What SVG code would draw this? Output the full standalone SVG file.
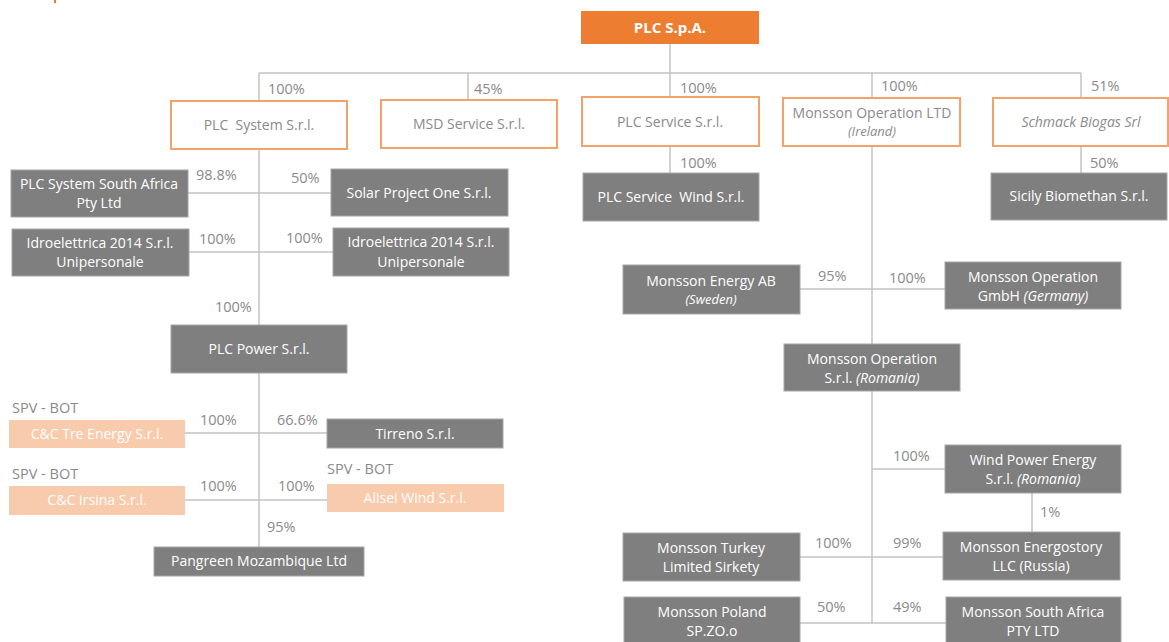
<svg xmlns="http://www.w3.org/2000/svg" width="1169" height="642" viewBox="0 0 1169 642">
<style>
text{font-family:"Open Sans","Liberation Sans",sans-serif;font-size:14px}
.lbl{fill:#8a8a8a;font-size:14.5px}
.wt{fill:#8a8a8a;text-anchor:middle}
.dt{fill:#ffffff;text-anchor:middle}
.white{fill:#ffffff;stroke:#F4A26B;stroke-width:2}
.dark{fill:#7F7F7F;stroke:#A6A6A6;stroke-width:1}
.peach{fill:#F8CBAD}
.ln{stroke:#C4C4C4;stroke-width:1.5;fill:none}
</style>
<rect x="54" y="0" width="2" height="3" fill="#ED7D31"/>
<g id="connectors">
<path class="ln" d="M670 44V97M259 73H1081M259 73V101M468 73V99M872 73V97M1081 73V98"/>
<path class="ln" d="M670 146V173M1081 146V173"/>
<path class="ln" d="M259 150V547M188 193H331M189 252H333M185 433H327M185 500H327"/>
<path class="ln" d="M872 146V623M800 289H945M872 469H945M1032 493V532M800 557H943M800 623H946"/>
</g>
<g id="n-plcspa"><rect x="581" y="11" width="178" height="33" fill="#ED7D31"/><text x="670" y="33" text-anchor="middle" fill="#fff" font-weight="bold" style="font-size:15px">PLC S.p.A.</text></g>
<g id="n-plcsystem"><rect class="white" x="171" y="101" width="176" height="48"/><text class="wt" x="259" y="130">PLC&#160; System S.r.l.</text></g>
<g id="n-msd"><rect class="white" x="381" y="100" width="176" height="48"/><text class="wt" x="469" y="129">MSD Service S.r.l.</text></g>
<g id="n-plcservice"><rect class="white" x="582" y="97" width="177" height="49"/><text class="wt" x="670" y="127">PLC Service S.r.l.</text></g>
<g id="n-monssonltd"><rect class="white" x="783" y="98" width="177" height="48"/><text class="wt" x="872" y="118">Monsson Operation LTD</text><text class="wt" x="872" y="136" font-style="italic" style="font-size:13px">(Ireland)</text></g>
<g id="n-schmack"><rect class="white" x="993" y="98" width="175" height="48"/><text class="wt" x="1081" y="127" font-style="italic">Schmack Biogas Srl</text></g>
<g id="labels-top">
<text class="lbl" x="268" y="94">100%</text>
<text class="lbl" x="474" y="94">45%</text>
<text class="lbl" x="680" y="93">100%</text>
<text class="lbl" x="881" y="91">100%</text>
<text class="lbl" x="1091" y="91">51%</text>
<text class="lbl" x="680" y="168">100%</text>
<text class="lbl" x="1090" y="168">50%</text>
</g>
<g id="n-plcwind"><rect class="dark" x="583" y="173" width="176" height="48"/><text class="dt" x="671" y="202">PLC Service&#160; Wind S.r.l.</text></g>
<g id="n-sicily"><rect class="dark" x="991" y="173" width="176" height="47"/><text class="dt" x="1079" y="201">Sicily Biomethan S.r.l.</text></g>
<g id="n-plcsa"><rect class="dark" x="11" y="170" width="177" height="47"/><text class="dt" x="99" y="189">PLC System South Africa</text><text class="dt" x="99" y="208">Pty Ltd</text></g>
<g id="n-solar"><rect class="dark" x="331" y="169" width="177" height="47"/><text class="dt" x="419" y="198">Solar Project One S.r.l.</text></g>
<g id="n-idro1"><rect class="dark" x="12" y="229" width="177" height="47"/><text class="dt" x="100" y="248">Idroelettrica 2014 S.r.l.</text><text class="dt" x="100" y="267">Unipersonale</text></g>
<g id="n-idro2"><rect class="dark" x="333" y="228" width="176" height="48"/><text class="dt" x="421" y="247">Idroelettrica 2014 S.r.l.</text><text class="dt" x="421" y="267">Unipersonale</text></g>
<g id="labels-left">
<text class="lbl" x="196" y="180">98.8%</text>
<text class="lbl" x="291" y="183">50%</text>
<text class="lbl" x="199" y="244">100%</text>
<text class="lbl" x="286" y="243">100%</text>
<text class="lbl" x="215" y="312">100%</text>
<text class="lbl" x="200" y="425">100%</text>
<text class="lbl" x="277" y="425">66.6%</text>
<text class="lbl" x="200" y="491">100%</text>
<text class="lbl" x="278" y="491">100%</text>
<text class="lbl" x="267" y="532">95%</text>
<text class="lbl" x="12" y="413">SPV - BOT</text>
<text class="lbl" x="12" y="479">SPV - BOT</text>
<text class="lbl" x="327" y="474">SPV - BOT</text>
</g>
<g id="n-plcpower"><rect class="dark" x="171" y="325" width="176" height="48"/><text class="dt" x="259" y="354">PLC Power S.r.l.</text></g>
<g id="n-cctre"><rect class="peach" x="9" y="420" width="176" height="28"/><text class="dt" x="97" y="439">C&amp;C Tre Energy S.r.l.</text></g>
<g id="n-tirreno"><rect class="dark" x="327" y="419" width="176" height="29"/><text class="dt" x="415" y="439">Tirreno S.r.l.</text></g>
<g id="n-ccirsina"><rect class="peach" x="9" y="486" width="176" height="29"/><text class="dt" x="97" y="505">C&amp;C Irsina S.r.l.</text></g>
<g id="n-alisei"><rect class="peach" x="327" y="484" width="177" height="28"/><text class="dt" x="415" y="503">Alisei Wind S.r.l.</text></g>
<g id="n-pangreen"><rect class="dark" x="154" y="547" width="210" height="29"/><text class="dt" x="259" y="566">Pangreen Mozambique Ltd</text></g>
<g id="n-menergyab"><rect class="dark" x="623" y="265" width="177" height="49"/><text class="dt" x="711" y="286">Monsson Energy AB</text><text class="dt" x="711" y="304" font-style="italic" style="font-size:13px">(Sweden)</text></g>
<g id="n-mgmbh"><rect class="dark" x="945" y="262" width="176" height="47"/><text class="dt" x="1033" y="282">Monsson Operation</text><text class="dt" x="1033" y="301">GmbH <tspan font-style="italic">(Germany)</tspan></text></g>
<g id="n-mromania"><rect class="dark" x="784" y="344" width="176" height="47"/><text class="dt" x="872" y="364">Monsson Operation</text><text class="dt" x="872" y="383">S.r.l. <tspan font-style="italic">(Romania)</tspan></text></g>
<g id="n-windpower"><rect class="dark" x="945" y="445" width="176" height="48"/><text class="dt" x="1033" y="465">Wind Power Energy</text><text class="dt" x="1033" y="484">S.r.l. <tspan font-style="italic">(Romania)</tspan></text></g>
<g id="n-energostory"><rect class="dark" x="943" y="532" width="177" height="48"/><text class="dt" x="1031" y="552">Monsson Energostory</text><text class="dt" x="1031" y="571">LLC (Russia)</text></g>
<g id="n-turkey"><rect class="dark" x="623" y="533" width="177" height="48"/><text class="dt" x="711" y="553">Monsson Turkey</text><text class="dt" x="711" y="572">Limited Sirkety</text></g>
<g id="n-poland"><rect class="dark" x="624" y="597" width="176" height="50"/><text class="dt" x="712" y="617">Monsson Poland</text><text class="dt" x="712" y="636">SP.ZO.o</text></g>
<g id="n-msa"><rect class="dark" x="946" y="597" width="175" height="50"/><text class="dt" x="1033" y="617">Monsson South Africa</text><text class="dt" x="1033" y="636">PTY LTD</text></g>
<g id="labels-right">
<text class="lbl" x="818" y="281">95%</text>
<text class="lbl" x="889" y="283">100%</text>
<text class="lbl" x="893" y="461">100%</text>
<text class="lbl" x="1040" y="517">1%</text>
<text class="lbl" x="815" y="548">100%</text>
<text class="lbl" x="893" y="548">99%</text>
<text class="lbl" x="817" y="612">50%</text>
<text class="lbl" x="893" y="612">49%</text>
</g>
</svg>
